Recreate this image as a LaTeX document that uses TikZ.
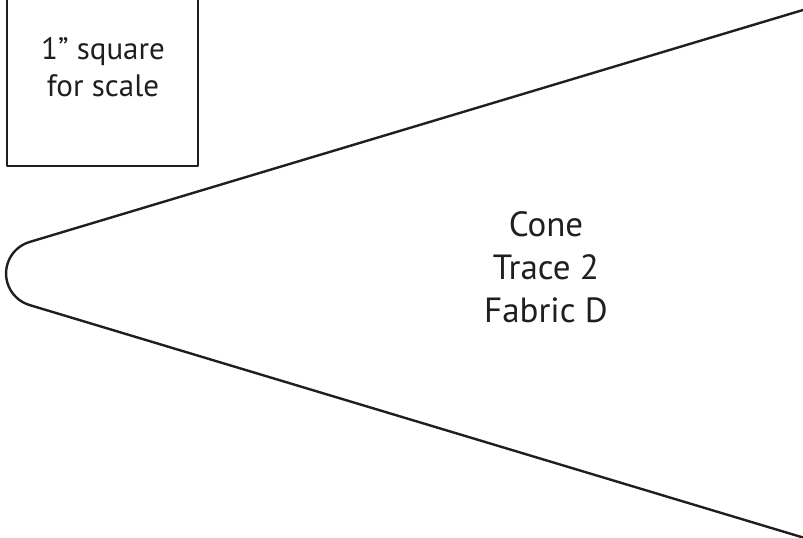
\documentclass[tikz,border=0pt]{standalone}
\usepackage{fontspec}
\setmainfont{PT Sans}
\usetikzlibrary{positioning}
\tikzset{
  outline/.style={draw=black!88, line width=2.4pt, line join=round},
  scaletext/.style={font=\fontsize{31}{37}\selectfont, align=center, text=black!88},
  conetext/.style={font=\fontsize{35}{43}\selectfont, align=center, text=black!88}
}

\begin{document}
\begin{tikzpicture}[x=1pt,y=-1pt]
  \useasboundingbox (0,0) rectangle (803,538);
  % square for scale, its top runs off the page
  \draw[outline] (7,0) -- (7,166) -- (198,166) -- (198,0);
  \node[scaletext] (scale) at (103,67) {1\textquotedblright{} square\\for scale};

  % the cone, rounded at its tip
  \draw[outline] (803,10) -- (29.5,242)
    arc[start angle=106.7, end angle=253.3, radius=32.9pt] -- (803,537.5);
  \node[conetext] (cone) at (546,267.5) {Cone\\Trace 2\\Fabric D};
\end{tikzpicture}
\end{document}
